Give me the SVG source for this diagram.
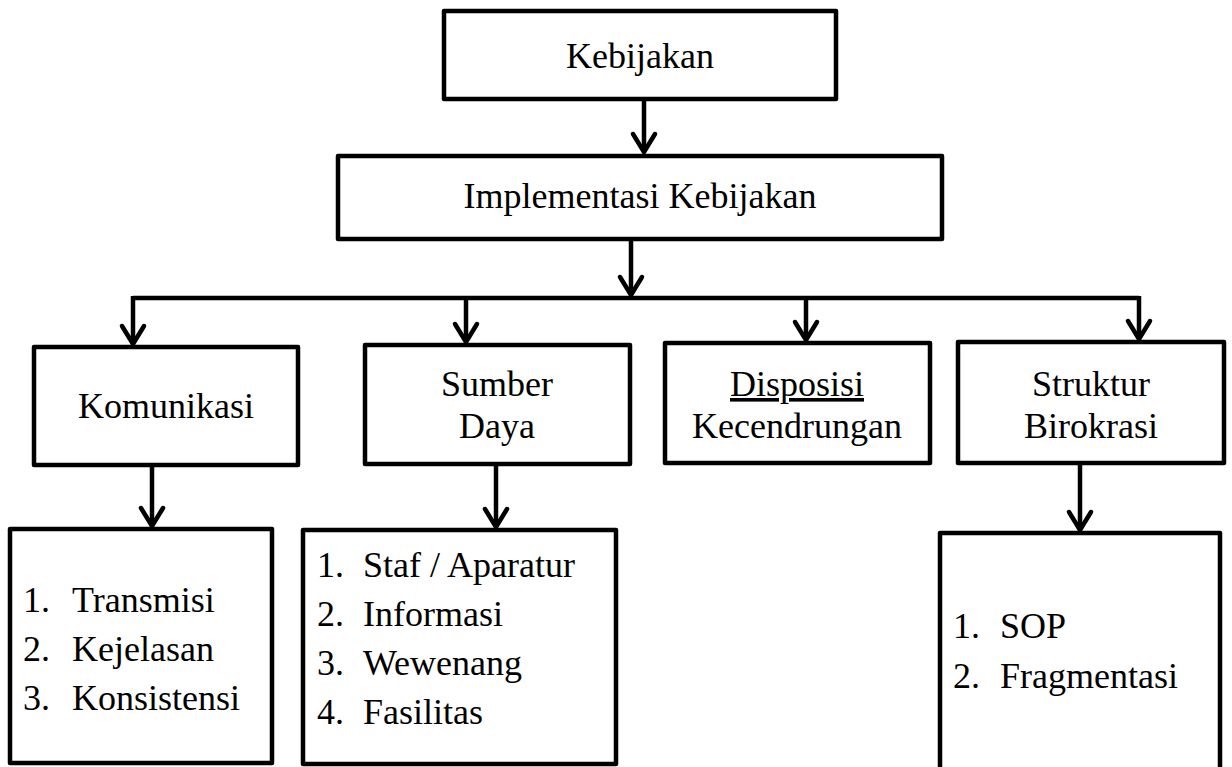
<svg xmlns="http://www.w3.org/2000/svg" width="1232" height="767" viewBox="0 0 1232 767">
  <defs>
    <style>
      .box { fill: #fff; stroke: #000; stroke-width: 4.5; stroke-linejoin: round; }
      .lbl { font-family: "Liberation Serif", "Times New Roman", serif; font-size: 36px; fill: #000; }
      .mid { text-anchor: middle; }
      .wire { fill: none; stroke: #000; stroke-width: 4.5; stroke-linejoin: miter; }
      .arrow { fill: none; stroke: #000; stroke-width: 4.5; marker-end: url(#chev); }
    </style>
    <!-- open chevron arrowhead, tip at the path end -->
    <marker id="chev" markerUnits="userSpaceOnUse" orient="auto" refX="0" refY="0" overflow="visible">
      <path d="M-18,-11 L0,0 L-18,11" fill="none" stroke="#000" stroke-width="4.5" stroke-linejoin="round" stroke-linecap="round"/>
    </marker>
  </defs>

  <!-- connectors -->
  <g id="connectors">
    <path class="arrow" d="M644,101 V152"/>
    <path class="arrow" d="M631,241 V295"/>
    <path class="wire" d="M133,298 H1139"/>
    <path class="arrow" d="M133,296 V344"/>
    <path class="arrow" d="M466,296 V342"/>
    <path class="arrow" d="M806,296 V340"/>
    <path class="arrow" d="M1139,296 V339"/>
    <path class="arrow" d="M152,467 V526"/>
    <path class="arrow" d="M496,466 V527"/>
    <path class="arrow" d="M1080,465 V530"/>
  </g>

  <!-- level 0 -->
  <g id="kebijakan">
    <rect class="box" x="444" y="11" width="392" height="88"/>
    <text class="lbl mid" x="640" y="68">Kebijakan</text>
  </g>

  <!-- level 1 -->
  <g id="implementasi">
    <rect class="box" x="338" y="156" width="604" height="83"/>
    <text class="lbl mid" x="640" y="208">Implementasi Kebijakan</text>
  </g>

  <!-- level 2 -->
  <g id="komunikasi">
    <rect class="box" x="34" y="347" width="264" height="118"/>
    <text class="lbl mid" x="166" y="418">Komunikasi</text>
  </g>
  <g id="sumber-daya">
    <rect class="box" x="365" y="345" width="265" height="119"/>
    <text class="lbl mid" x="497" y="396">Sumber</text>
    <text class="lbl mid" x="497" y="438">Daya</text>
  </g>
  <g id="disposisi">
    <rect class="box" x="665" y="343" width="265" height="120"/>
    <text class="lbl mid" x="797" y="396" style="text-decoration: underline">Disposisi</text>
    <text class="lbl mid" x="797" y="438">Kecendrungan</text>
  </g>
  <g id="struktur-birokrasi">
    <rect class="box" x="958" y="342" width="266" height="121"/>
    <text class="lbl mid" x="1091" y="396">Struktur</text>
    <text class="lbl mid" x="1091" y="438">Birokrasi</text>
  </g>

  <!-- level 3: item lists -->
  <g id="list-komunikasi">
    <rect class="box" x="10" y="529" width="262" height="234"/>
    <text class="lbl" y="612"><tspan x="23">1.</tspan><tspan x="72">Transmisi</tspan></text>
    <text class="lbl" y="661"><tspan x="23">2.</tspan><tspan x="72">Kejelasan</tspan></text>
    <text class="lbl" y="710"><tspan x="23">3.</tspan><tspan x="72">Konsistensi</tspan></text>
  </g>
  <g id="list-sumber-daya">
    <rect class="box" x="303" y="530" width="313" height="234"/>
    <text class="lbl" y="577"><tspan x="317">1.</tspan><tspan x="363">Staf / Aparatur</tspan></text>
    <text class="lbl" y="626"><tspan x="317">2.</tspan><tspan x="363">Informasi</tspan></text>
    <text class="lbl" y="675"><tspan x="317">3.</tspan><tspan x="363">Wewenang</tspan></text>
    <text class="lbl" y="724"><tspan x="317">4.</tspan><tspan x="363">Fasilitas</tspan></text>
  </g>
  <g id="list-struktur">
    <rect class="box" x="940" y="533" width="280" height="260"/>
    <text class="lbl" y="638"><tspan x="953">1.</tspan><tspan x="1000">SOP</tspan></text>
    <text class="lbl" y="688"><tspan x="953">2.</tspan><tspan x="1000">Fragmentasi</tspan></text>
  </g>
</svg>
